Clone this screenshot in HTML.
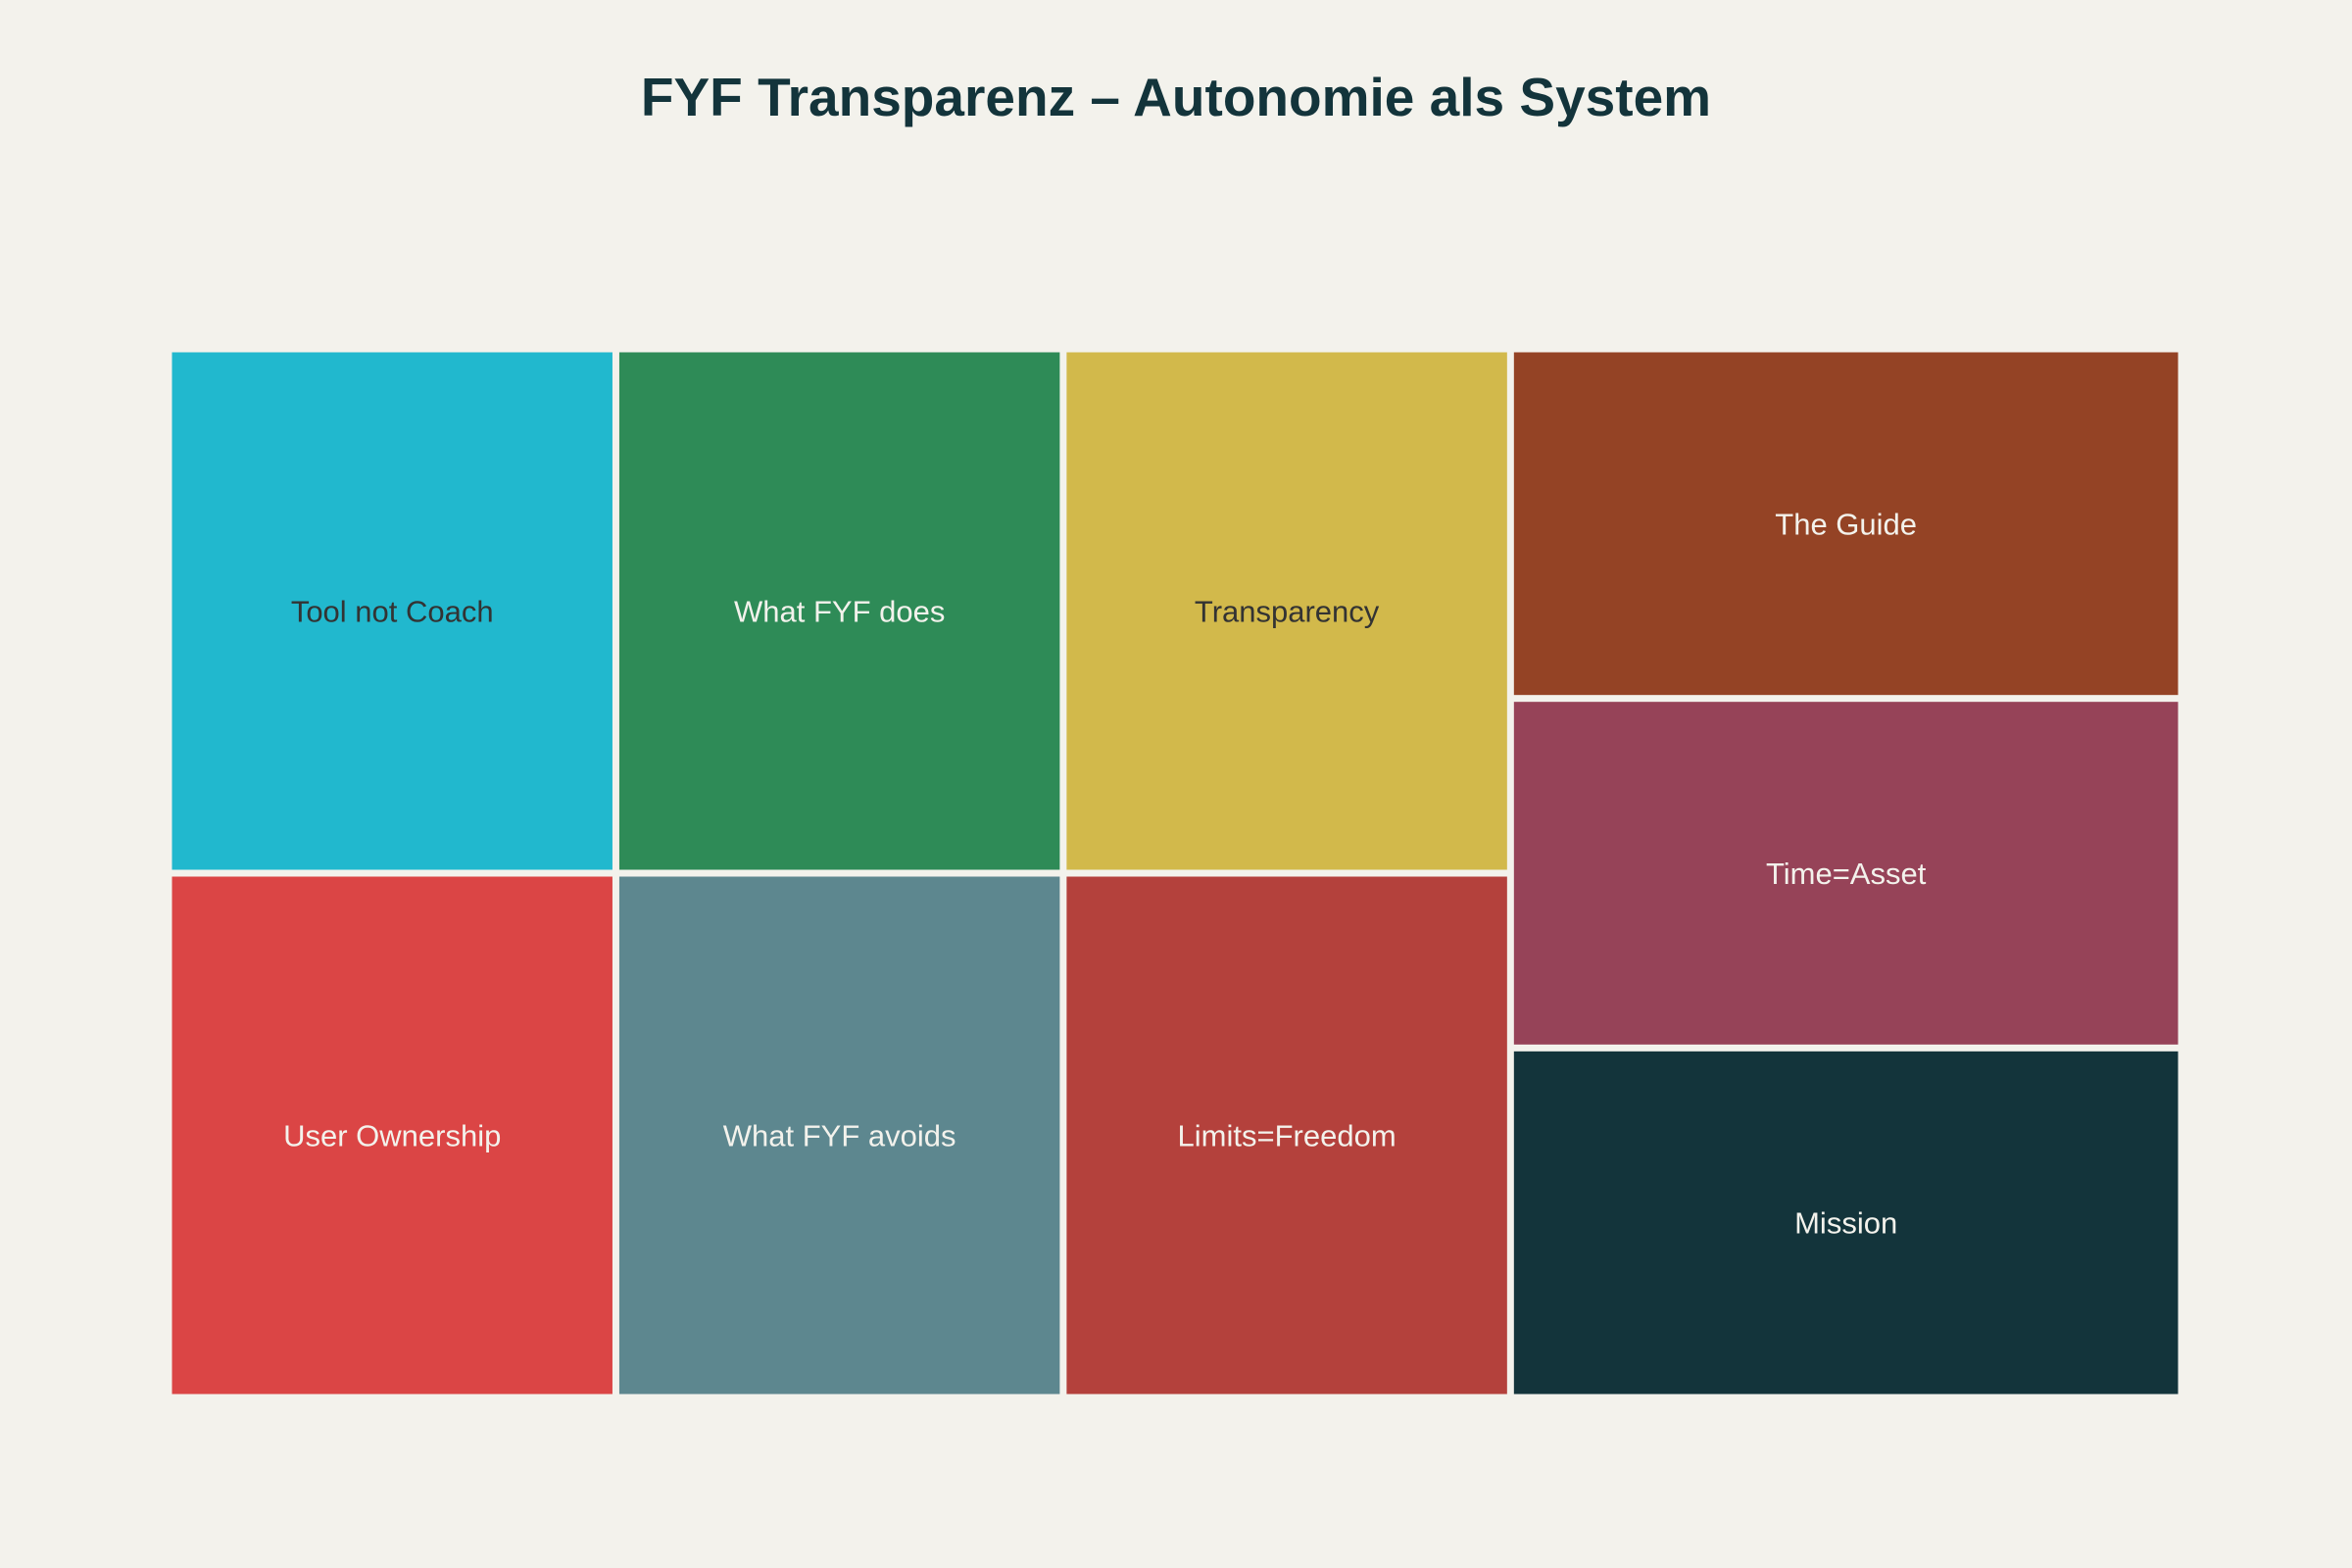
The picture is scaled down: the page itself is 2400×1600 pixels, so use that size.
<!DOCTYPE html>
<html><head><meta charset="utf-8">
<style>
html,body{margin:0;padding:0;background:#F3F2EC;}
svg{display:block;}
text{font-family:"Liberation Sans",sans-serif;}
</style></head>
<body>
<svg id="chart" width="2400" height="1600" viewBox="0 0 2400 1600">
<rect width="2400" height="1600" fill="#F3F2EC"/>
<text x="1200" y="118" text-anchor="middle" font-size="55" font-weight="bold" fill="#13343B">FYF Transparenz – Autonomie als System</text>
<g id="tiles"></g>
</svg>
<script>
const labels = ["Tool not Coach","User Ownership","What FYF does","What FYF avoids","Transparency","Limits=Freedom","The Guide","Time=Asset","Mission"];
const values = [1,1,1,1,1,1,1,1,1];
const columnIndex = [0,0,1,1,2,2,3,3,3];
const colors = ["#21B8CE","#DB4545","#2E8B57","#5D878F","#D2B94B","#B4413C","#944325","#964358","#13343B"];
const textColors = ["#333333","#F3F2EC","#F3F2EC","#F3F2EC","#333333","#F3F2EC","#F3F2EC","#F3F2EC","#F3F2EC"];

const X0=172, X1=2226, Y0=356, Y1=1426, GAP=7;
const g=document.getElementById('tiles');
const total=values.reduce((a,b)=>a+b,0);
const nCols=Math.max(...columnIndex)+1;
let cx=X0;
for(let c=0;c<nCols;c++){
  const idx=[];for(let i=0;i<values.length;i++) if(columnIndex[i]===c) idx.push(i);
  const colSum=idx.reduce((a,i)=>a+values[i],0);
  const w=(X1-X0)*colSum/total;
  let cy=Y0;
  idx.forEach(i=>{
    const h=(Y1-Y0)*values[i]/colSum;
    const r=document.createElementNS('http://www.w3.org/2000/svg','rect');
    r.setAttribute('x',cx+GAP/2);r.setAttribute('y',cy+GAP/2);
    r.setAttribute('width',w-GAP);r.setAttribute('height',h-GAP);
    r.setAttribute('fill',colors[i]);
    
    
    g.appendChild(r);
    const t=document.createElementNS('http://www.w3.org/2000/svg','text');
    t.setAttribute('x',cx+w/2);t.setAttribute('y',cy+h/2+11);
    t.setAttribute('text-anchor','middle');t.setAttribute('font-size','31');
    t.setAttribute('fill',textColors[i]);
    t.textContent=labels[i];
    
    
    g.appendChild(t);
    cy+=h;
  });
  cx+=w;
}
</script>
</body></html>
